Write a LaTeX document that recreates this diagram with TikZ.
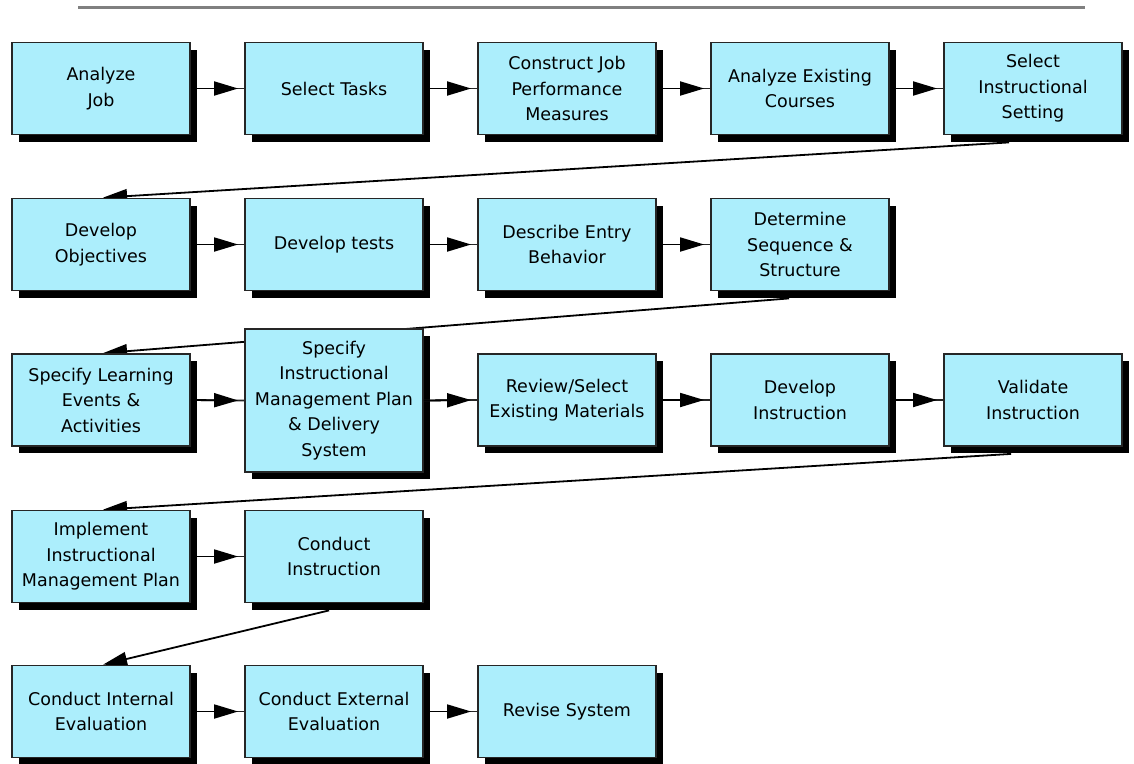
\documentclass[tikz,border=0pt]{standalone}
\usepackage{fontspec}
\setmainfont{DejaVu Sans}
\usetikzlibrary{arrows.meta,shadows}
\definecolor{boxfill}{RGB}{172,238,252}
\definecolor{rulegray}{RGB}{128,128,128}
\pgfdeclarelayer{background}
\pgfsetlayers{background,main}
\begin{document}
\begin{tikzpicture}[x=1pt,y=-1pt,
  stepbox/.style={draw=black!85, line width=1.8pt, fill=boxfill,
    minimum width=178pt, minimum height=92pt, inner sep=0pt, align=center,
    font=\fontsize{17.5}{25.5}\selectfont,
    drop shadow={shadow xshift=7pt, shadow yshift=-7pt, fill=black, opacity=1}},
  tallbox/.style={stepbox, minimum height=143pt},
  tipshape/.tip={Triangle[length=24pt,width=14pt]},
  hconn/.style={line width=1.8pt, draw=black!85,
    postaction={draw=black, line width=1.8pt, -tipshape, shorten >=6pt}},
  dconn/.style={line width=1.8pt, draw=black, -tipshape}]
\useasboundingbox (0,0) rectangle (1134,763);
% top rule
\coordinate (ruleL) at (78,7);
\coordinate (ruleR) at (1085,7);
\draw[rulegray, line width=3pt] (ruleL) -- (ruleR);
% row 1
\node[stepbox] (aj)  at (101,88.5)  {Analyze\\Job};
\node[stepbox] (st)  at (334,88.5)  {Select Tasks};
\node[stepbox] (cj)  at (567,88.5)  {Construct Job\\Performance\\Measures};
\node[stepbox] (ae)  at (800,88.5)  {Analyze Existing\\Courses};
\node[stepbox] (sis) at (1033,88.5) {Select\\Instructional\\Setting};
% row 2
\node[stepbox] (dob) at (101,244.5) {Develop\\Objectives};
\node[stepbox] (dt)  at (334,244.5) {Develop tests};
\node[stepbox] (de)  at (567,244.5) {Describe Entry\\Behavior};
\node[stepbox] (ds)  at (800,244.5) {Determine\\Sequence \&\\Structure};
% row 3
\node[stepbox] (sl)  at (101,400)   {Specify Learning\\Events \&\\Activities};
\node[tallbox] (sim) at (334,400.5) {Specify\\Instructional\\Management Plan\\\& Delivery\\System};
\node[stepbox] (rs)  at (567,400)   {Review/Select\\Existing Materials};
\node[stepbox] (di)  at (800,400)   {Develop\\Instruction};
\node[stepbox] (vi)  at (1033,400)  {Validate\\Instruction};
% row 4
\node[stepbox] (im)  at (101,556.5) {Implement\\Instructional\\Management Plan};
\node[stepbox] (ci)  at (334,556.5) {Conduct\\Instruction};
% row 5
\node[stepbox] (cie) at (101,711.5) {Conduct Internal\\Evaluation};
\node[stepbox] (cee) at (334,711.5) {Conduct External\\Evaluation};
\node[stepbox] (rv)  at (567,711.5) {Revise System};
% horizontal connectors
\draw[hconn] (aj.east) -- (st.west);
\draw[hconn] (st.east) -- (cj.west);
\draw[hconn] (cj.east) -- (ae.west);
\draw[hconn] (ae.east) -- (sis.west);
\draw[hconn] (dob.east) -- (dt.west);
\draw[hconn] (dt.east) -- (de.west);
\draw[hconn] (de.east) -- (ds.west);
\draw[hconn] (sl.east) -- (sim.west);
\draw[hconn] (sim.east) -- (rs.west);
\draw[hconn] (rs.east) -- (di.west);
\draw[hconn] (di.east) -- (vi.west);
\draw[hconn] (im.east) -- (ci.west);
\draw[hconn] (cie.east) -- (cee.west);
\draw[hconn] (cee.east) -- (rv.west);
% diagonal connectors (behind boxes)
\begin{pgfonlayer}{background}
\draw[dconn] ([xshift=66pt,yshift=-7pt]sis.south west) -- ([xshift=92pt]dob.north west);
\draw[dconn] ([xshift=79pt,yshift=-7pt]ds.south west) -- ([xshift=92pt]sl.north west);
\draw[dconn] ([xshift=68pt,yshift=-7pt]vi.south west) -- ([xshift=92pt]im.north west);
\draw[dconn] ([xshift=85pt,yshift=-7pt]ci.south west) -- ([xshift=92pt]cie.north west);
\end{pgfonlayer}
\end{tikzpicture}
\end{document}
